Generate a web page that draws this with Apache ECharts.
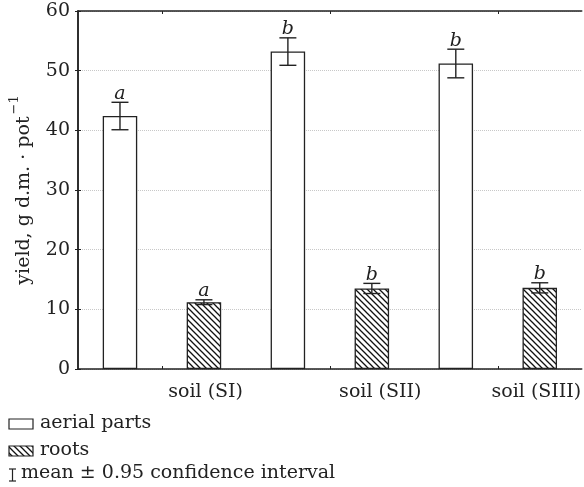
<!DOCTYPE html>
<html>
<head>
<meta charset="utf-8">
<script src="https://cdn.jsdelivr.net/npm/echarts@6/dist/echarts.min.js"></script>
<style>html,body{margin:0;padding:0;background:#fff}#c{width:584px;height:487px}</style>
</head>
<body>
<div id="c"></div>
<script>
// ---- data ----
var groups = ['soil (SI)', 'soil (SII)', 'soil (SIII)'];
var aerialMean = [42.4, 53.2, 51.2];
var aerialCI = [2.3, 2.3, 2.4];
var rootsMean = [11.2, 13.5, 13.6];
var rootsCI = [0.4, 0.85, 0.85];
var aerialLetters = ['a', 'b', 'b'];
var rootsLetters = ['a', 'b', 'b'];
var yTicks = [0, 10, 20, 30, 40, 50, 60];
var legendLabels = ['aerial parts', 'roots', 'mean \u00b1 0.95 confidence interval'];
var yName = 'yield, g d.m. \u00b7 pot';
var groupLabelPos = [1.52, 3.6, 5.46];
var groupTickPos = [1, 3, 5];

var FONT = 'DejaVu Serif';
var INK = '#222';

// hatch pattern
var pc = document.createElement('canvas');
pc.width = 6; pc.height = 6;
var g = pc.getContext('2d');
g.fillStyle = '#fff'; g.fillRect(0, 0, 6, 6);
g.strokeStyle = '#111'; g.lineWidth = 1.3;
g.beginPath();
g.moveTo(-1, -1); g.lineTo(7, 7);
g.moveTo(-1, 5); g.lineTo(1, 7);
g.moveTo(5, -1); g.lineTo(7, 1);
g.stroke();
var hatch = { image: pc, repeat: 'repeat' };

// slots
var slots = [];
var aerialData = [], rootsData = [], errData = [];
groups.forEach(function (gname, i) {
  slots.push(gname + ' aerial', gname + ' roots');
  aerialData.push(aerialMean[i], '-');
  rootsData.push('-', rootsMean[i]);
  errData.push([2 * i, aerialMean[i], aerialCI[i], aerialLetters[i]]);
  errData.push([2 * i + 1, rootsMean[i], rootsCI[i], rootsLetters[i]]);
});

var chart = echarts.init(document.getElementById('c'), null, { renderer: 'canvas' });

chart.setOption({
  animation: false,
  backgroundColor: '#fff',
  grid: { left: 75, right: 1, top: 11, bottom: 118, containLabel: false },
  xAxis: [
    {
      type: 'category', data: slots, boundaryGap: true,
      axisLine: { show: true, lineStyle: { color: INK, width: 1.5 } },
      axisTick: { show: false }, axisLabel: { show: false }, splitLine: { show: false }
    },
    {
      type: 'value', min: 0, max: 6, position: 'bottom',
      axisLine: { show: false },
      axisTick: { show: true, inside: true, length: 3, customValues: groupTickPos, lineStyle: { color: INK } },
      axisLabel: {
        show: true, customValues: groupLabelPos, margin: 14,
        fontFamily: FONT, fontSize: 19, color: INK,
        formatter: function (v) {
          var k = groupLabelPos.indexOf(v);
          return k >= 0 ? groups[k] : '';
        }
      },
      splitLine: { show: false }
    },
    {
      type: 'value', min: 0, max: 6, position: 'top',
      axisLine: { show: true, lineStyle: { color: INK, width: 1.5 } },
      axisTick: { show: true, inside: true, length: 3, customValues: groupTickPos, lineStyle: { color: INK } },
      axisLabel: { show: false }, splitLine: { show: false }
    }
  ],
  yAxis: [
    {
      type: 'value', min: yTicks[0], max: yTicks[yTicks.length - 1], interval: 10,
      name: '{m|' + yName + '}{s|\u22121}',
      nameLocation: 'middle', nameGap: 44, nameRotate: 90,
      nameTextStyle: {
        rich: {
          m: { fontFamily: FONT, fontSize: 19, color: INK, lineHeight: 26, verticalAlign: 'bottom' },
          s: { fontFamily: FONT, fontSize: 13, color: INK, lineHeight: 26, verticalAlign: 'top', padding: [0, 0, 0, 2] }
        }
      },
      axisLine: { show: true, lineStyle: { color: INK, width: 1.5 } },
      axisTick: { show: true, inside: true, length: 3, lineStyle: { color: INK } },
      axisLabel: { fontFamily: FONT, fontSize: 19, color: INK, margin: 8 },
      splitLine: { show: true, lineStyle: { color: '#c8c8c8', type: 'dotted', width: 1 } }
    },
    {
      type: 'value', min: yTicks[0], max: yTicks[yTicks.length - 1], interval: 10, position: 'right',
      axisLine: { show: true, lineStyle: { color: INK, width: 1.5 } },
      axisTick: { show: true, inside: true, length: 3, lineStyle: { color: INK } },
      axisLabel: { show: false }, splitLine: { show: false }
    }
  ],
  series: [
    {
      name: legendLabels[0], type: 'bar', data: aerialData, barWidth: 34.5, barGap: '-100%',
      itemStyle: { color: '#fff', borderColor: INK, borderWidth: 1.3 }
    },
    {
      name: legendLabels[1], type: 'bar', data: rootsData, barWidth: 34.5, barGap: '-100%',
      itemStyle: { color: hatch, borderColor: INK, borderWidth: 1.3 }
    },
    {
      type: 'custom', data: errData, z: 10,
      renderItem: function (params, api) {
        var idx = api.value(0), m = api.value(1), ci = api.value(2);
        var letter = errData[params.dataIndex][3];
        var top = api.coord([idx, m + ci]);
        var bot = api.coord([idx, m - ci]);
        var hw = 8.5;
        var st = { stroke: INK, lineWidth: 1.4, fill: null };
        return {
          type: 'group',
          children: [
            { type: 'line', shape: { x1: top[0], y1: top[1], x2: bot[0], y2: bot[1] }, style: st },
            { type: 'line', shape: { x1: top[0] - hw, y1: top[1], x2: top[0] + hw, y2: top[1] }, style: st },
            { type: 'line', shape: { x1: bot[0] - hw, y1: bot[1], x2: bot[0] + hw, y2: bot[1] }, style: st },
            {
              type: 'text', x: top[0], y: top[1] + 1,
              style: { text: letter, fill: INK, font: 'italic 19px "' + FONT + '"', align: 'center', verticalAlign: 'bottom' }
            }
          ]
        };
      }
    }
  ],
  graphic: [
    { type: 'rect', shape: { x: 9, y: 419, width: 24, height: 10 }, style: { fill: '#fff', stroke: INK, lineWidth: 1.2 } },
    { type: 'text', x: 40, y: 423.5, style: { text: legendLabels[0], fill: INK, font: '19px "' + FONT + '"', verticalAlign: 'middle' } },
    { type: 'rect', shape: { x: 9, y: 446, width: 24, height: 10 }, style: { fill: hatch, stroke: INK, lineWidth: 1.2 } },
    { type: 'text', x: 40, y: 450, style: { text: legendLabels[1], fill: INK, font: '19px "' + FONT + '"', verticalAlign: 'middle' } },
    { type: 'line', shape: { x1: 12.5, y1: 469, x2: 12.5, y2: 481 }, style: { stroke: INK, lineWidth: 1.2 } },
    { type: 'line', shape: { x1: 9, y1: 469, x2: 16, y2: 469 }, style: { stroke: INK, lineWidth: 1.2 } },
    { type: 'line', shape: { x1: 9, y1: 481, x2: 16, y2: 481 }, style: { stroke: INK, lineWidth: 1.2 } },
    { type: 'text', x: 21, y: 473.5, style: { text: legendLabels[2], fill: INK, font: '19px "' + FONT + '"', verticalAlign: 'middle' } }
  ]
});
</script>
</body>
</html>
